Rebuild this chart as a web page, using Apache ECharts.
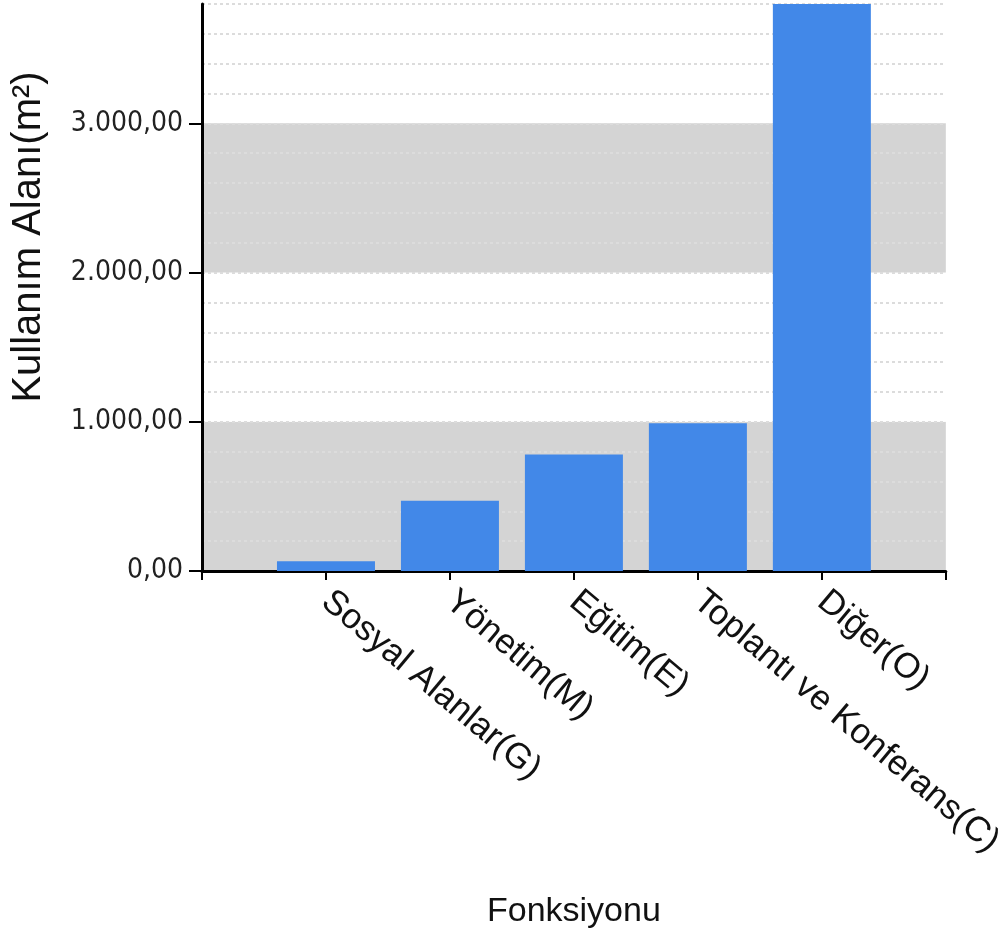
<!DOCTYPE html>
<html>
<head>
<meta charset="utf-8">
<script src="https://cdn.jsdelivr.net/npm/echarts@6/dist/echarts.min.js"></script>
<style>
html,body{margin:0;padding:0;background:#fff;}
#chart{width:1008px;height:940px;}
</style>
</head>
<body>
<div id="chart"></div>
<script>
const categories = ['Sosyal Alanlar(G)', 'Yönetim(M)', 'Eğitim(E)', 'Toplantı ve Konferans(C)', 'Diğer(O)'];
const values = [65, 470, 780, 990, 3800];
const yTicks = [0, 1000, 2000, 3000];
const yMax = 3800;
const xTitle = 'Fonksiyonu';
const yTitle = 'Kullanım Alanı(m²)';

const axisCats = [''].concat(categories, ['']);
const axisVals = [null].concat(values, [null]);

function fmt(v) {
  const parts = Math.round(v).toString().replace(/\B(?=(\d{3})+(?!\d))/g, '.');
  return parts + ',00';
}

const chart = echarts.init(document.getElementById('chart'));
chart.setOption({
  animation: false,
  backgroundColor: '#ffffff',
  grid: { left: 202, right: 60, top: 4, bottom: 369 },
  xAxis: {
    type: 'category',
    data: axisCats,
    boundaryGap: false,
    name: xTitle,
    nameLocation: 'middle',
    nameGap: 324,
    nameTextStyle: { fontFamily: 'Liberation Sans, Arial, sans-serif', fontSize: 34, color: '#111' },
    axisLine: { lineStyle: { color: '#000', width: 3 } },
    axisTick: { show: true, length: 9, lineStyle: { color: '#000', width: 2 } },
    axisLabel: {
      interval: 0,
      rotate: -40,
      margin: 26,
      fontFamily: 'Liberation Sans, Arial, sans-serif',
      fontSize: 35,
      color: '#111'
    },
    splitLine: { show: false }
  },
  yAxis: [
    {
      type: 'value',
      min: 0,
      max: yMax,
      interval: 1000,
      axisLine: { show: true, lineStyle: { color: '#000', width: 3 } },
      axisTick: { show: true, length: 13, customValues: yTicks, lineStyle: { color: '#000', width: 2 } },
      axisLabel: {
        customValues: yTicks,
        margin: 19,
        formatter: fmt,
        fontFamily: 'Liberation Sans Narrow, DejaVu Sans Condensed, Arial Narrow, sans-serif',
        fontSize: 28,
        color: '#222',
        padding: [26, 0, 0, 0]
      },
      splitLine: { show: false },
      splitArea: { show: true, areaStyle: { color: ['#d4d4d4', '#ffffff'] } }
    },
    {
      type: 'value',
      min: 0,
      max: yMax,
      interval: 200,
      position: 'right',
      axisLine: { show: false },
      axisTick: { show: false },
      axisLabel: { show: false },
      splitLine: { show: true, lineStyle: { color: '#dcdcdc', width: 2, type: [3, 3] } },
      splitArea: { show: false }
    }
  ],
  graphic: [
    {
      type: 'text',
      x: 29,
      y: 237,
      rotation: Math.PI / 2,
      style: {
        text: yTitle,
        font: '40px "Liberation Sans", Arial, sans-serif',
        fill: '#111',
        textAlign: 'center',
        textVerticalAlign: 'middle'
      }
    }
  ],
  series: [
    {
      type: 'bar',
      yAxisIndex: 0,
      data: axisVals,
      barWidth: 98,
      itemStyle: { color: '#4288e8' },
      z: 3
    }
  ]
});
</script>
</body>
</html>
